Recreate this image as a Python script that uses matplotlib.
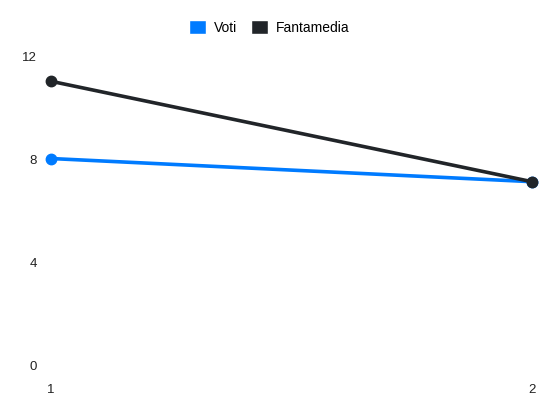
import matplotlib
matplotlib.use("Agg")
import matplotlib.pyplot as plt
from matplotlib.patches import Patch

# dati
giornate = [1, 2]
voti = [8.1, 7.2]
fantamedia = [11.1, 7.2]
y_ticks = [0, 4, 8, 12]

blu = "#007bff"
nero = "#212529"

plt.rcParams['font.family'] = ['Liberation Sans', 'DejaVu Sans']

fig = plt.figure(figsize=(5.5, 4.12), dpi=100)
ax = fig.add_axes([0.0927, 0.109, 0.8745, 0.75])

ax.plot(giornate, voti, color=blu, lw=2.6, marker='o', ms=7.5, zorder=3, clip_on=False)
ax.plot(giornate, fantamedia, color=nero, lw=2.6, marker='o', ms=7.5, zorder=3, clip_on=False)

ax.set_xlim(1, 2)
ax.set_ylim(0, 12)
ax.set_xticks(giornate)
ax.set_yticks(y_ticks)
ax.tick_params(length=0, labelsize=9.5, colors='#222222')
ax.tick_params(axis='y', pad=10)
ax.tick_params(axis='x', pad=12)
for s in ax.spines.values():
    s.set_visible(False)
for lab in ax.get_yticklabels():
    lab.set_va('center')

handles = [Patch(facecolor=blu, edgecolor='white', label='Voti'),
           Patch(facecolor=nero, edgecolor='white', label='Fantamedia')]
fig.legend(handles=handles, loc='center', bbox_to_anchor=(0.49, 0.934), ncol=2,
           frameon=False, fontsize=10, handlelength=1.2, handleheight=1.2,
           handletextpad=0.6, columnspacing=1.0)

fig.savefig("out.png", dpi=100)
